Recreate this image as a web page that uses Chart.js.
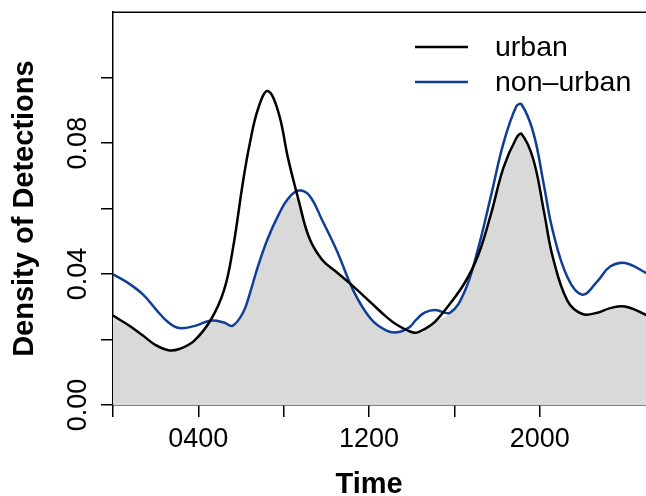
<!DOCTYPE html>
<html>
<head>
<meta charset="utf-8">
<script src="https://cdn.jsdelivr.net/npm/chart.js@4.4.1/dist/chart.umd.min.js"></script>
<style>
  html, body { margin: 0; padding: 0; background: #fff; }
  #wrap { width: 646px; height: 496px; position: relative; }
</style>
</head>
<body>
<div id="wrap"><canvas id="chart"></canvas></div>
<script>
// hour of day (time axis) and density readings for both groups
const HOURS = [0, 0.7, 1.4, 2.0, 2.6, 3.1, 3.8, 4.6, 5.2, 5.6, 6.1, 6.4, 6.8, 7.25, 7.75,
  8.2, 8.7, 9.2, 9.8, 10.5, 11.3, 12.1, 12.8, 13.3, 13.9, 14.2, 14.6, 15.1, 15.8, 16.5,
  17.1, 17.7, 18.3, 18.9, 19.15, 19.7, 20.2, 20.6, 21.3, 22.0, 22.7, 23.3, 24.0, 25.0];
const URBAN = [0.0273, 0.0245, 0.0212, 0.0183, 0.0167, 0.0171, 0.0196, 0.0262, 0.035, 0.047,
  0.0685, 0.0795, 0.0905, 0.0959, 0.0895, 0.0755, 0.0625, 0.051, 0.0444, 0.0405, 0.036,
  0.0312, 0.027, 0.0245, 0.0225, 0.0221, 0.0232, 0.0255, 0.031, 0.0375, 0.0455, 0.058,
  0.0725, 0.0815, 0.0828, 0.075, 0.059, 0.0455, 0.0318, 0.0278, 0.0282, 0.0296, 0.0301, 0.0275];
const NON_URBAN = [0.0399, 0.0373, 0.0338, 0.0293, 0.0252, 0.0235, 0.0241, 0.0258, 0.0252, 0.0242,
  0.0283, 0.0338, 0.0425, 0.0508, 0.058, 0.063, 0.0655, 0.064, 0.0565, 0.047, 0.0345,
  0.0262, 0.0228, 0.0222, 0.0238, 0.026, 0.0282, 0.029, 0.0282, 0.035, 0.0475, 0.0635,
  0.08, 0.0912, 0.0918, 0.0832, 0.067, 0.0535, 0.039, 0.0337, 0.0378, 0.0423, 0.0434, 0.0403];

const X_TICKS = [0, 4, 8, 12, 16, 20];
const X_TICK_LABELS = ["", "0400", "", "1200", "", "2000"];
const Y_TICKS = [0, 0.02, 0.04, 0.06, 0.08, 0.10];
const Y_TICK_LABELS = ["0.00", "", "0.04", "", "0.08", ""];

const FONT = "'Liberation Sans', Arial, Helvetica, sans-serif";
const BLUE = "#0f3f94";

const toPts = (ys) => HOURS.map((h, i) => ({ x: h, y: ys[i] }));
const overlap = HOURS.map((h, i) => Math.min(URBAN[i], NON_URBAN[i]));

// top border, x-axis title and in-plot legend
const extras = {
  id: "extras",
  afterDraw(chart) {
    const { ctx, chartArea } = chart;
    const xs = chart.scales.x;
    ctx.save();
    ctx.strokeStyle = "#000";
    ctx.lineWidth = 1.5;
    ctx.beginPath();
    ctx.moveTo(chartArea.left, chartArea.top);
    ctx.lineTo(chartArea.right, chartArea.top);
    ctx.stroke();

    ctx.fillStyle = "#000";
    ctx.font = "bold 29px " + FONT;
    ctx.textAlign = "center";
    ctx.textBaseline = "middle";
    ctx.fillText("Time", xs.getPixelForValue(12), 485);

    ctx.font = "28.5px " + FONT;
    ctx.textAlign = "left";
    const items = chart.data.datasets.filter((d) => d.showInLegend);
    items.forEach((d, i) => {
      const y = 47 + i * 35;
      ctx.strokeStyle = d.borderColor;
      ctx.lineWidth = 2.5;
      ctx.beginPath();
      ctx.moveTo(415, y);
      ctx.lineTo(468, y);
      ctx.stroke();
      ctx.fillText(d.label, 495, y + 1);
    });
    ctx.restore();
  },
};

const lineStyle = { pointRadius: 0, tension: 0.4, borderWidth: 2.5 };

new Chart(document.getElementById("chart"), {
  type: "line",
  data: {
    datasets: [
      { ...lineStyle, label: "urban", showInLegend: true, data: toPts(URBAN),
        borderColor: "#000", fill: false, order: 1 },
      { ...lineStyle, label: "non\u2013urban", showInLegend: true, data: toPts(NON_URBAN),
        borderColor: BLUE, fill: false, order: 2 },
      { ...lineStyle, label: "overlap", data: toPts(overlap), borderWidth: 0,
        borderColor: "rgba(0,0,0,0)", backgroundColor: "#d9d9d9", fill: "origin", order: 3 },
    ],
  },
  options: {
    responsive: true,
    maintainAspectRatio: false,
    animation: false,
    layout: { padding: { top: 12, right: 0, left: 0, bottom: 0 } },
    plugins: { legend: { display: false }, tooltip: { enabled: false } },
    scales: {
      x: {
        type: "linear",
        min: 0,
        max: 24.98,
        afterBuildTicks: (s) => { s.ticks = X_TICKS.map((v) => ({ value: v })); },
        afterFit: (s) => { s.height = 91; },
        grid: { drawOnChartArea: false, drawTicks: true, tickLength: 12, color: "#000", lineWidth: 1.5 },
        border: { display: true, color: "#000", width: 1.5 },
        ticks: {
          color: "#000",
          padding: 6,
          maxRotation: 0,
          autoSkip: false,
          font: { family: FONT, size: 27 },
          callback: (v) => X_TICK_LABELS[X_TICKS.indexOf(v)] || "",
        },
      },
      y: {
        min: 0,
        max: 0.12,
        afterBuildTicks: (s) => { s.ticks = Y_TICKS.map((v) => ({ value: v })); },
        afterFit: (s) => { s.width = 113; },
        grid: { drawOnChartArea: false, drawTicks: true, tickLength: 12, color: "#000", lineWidth: 1.5 },
        border: { display: true, color: "#000", width: 1.5 },
        ticks: {
          color: "#000",
          padding: -4,
          minRotation: 90,
          maxRotation: 90,
          crossAlign: "center",
          autoSkip: false,
          font: { family: FONT, size: 27 },
          callback: (v) => {
            const i = Y_TICKS.findIndex((t) => Math.abs(t - v) < 1e-9);
            return i >= 0 ? Y_TICK_LABELS[i] : "";
          },
        },
        title: {
          display: true,
          text: "Density of Detections",
          color: "#000",
          font: { family: FONT, size: 29, weight: "bold" },
          padding: { top: 8, bottom: 0 },
        },
      },
    },
  },
  plugins: [extras],
});
</script>
</body>
</html>
